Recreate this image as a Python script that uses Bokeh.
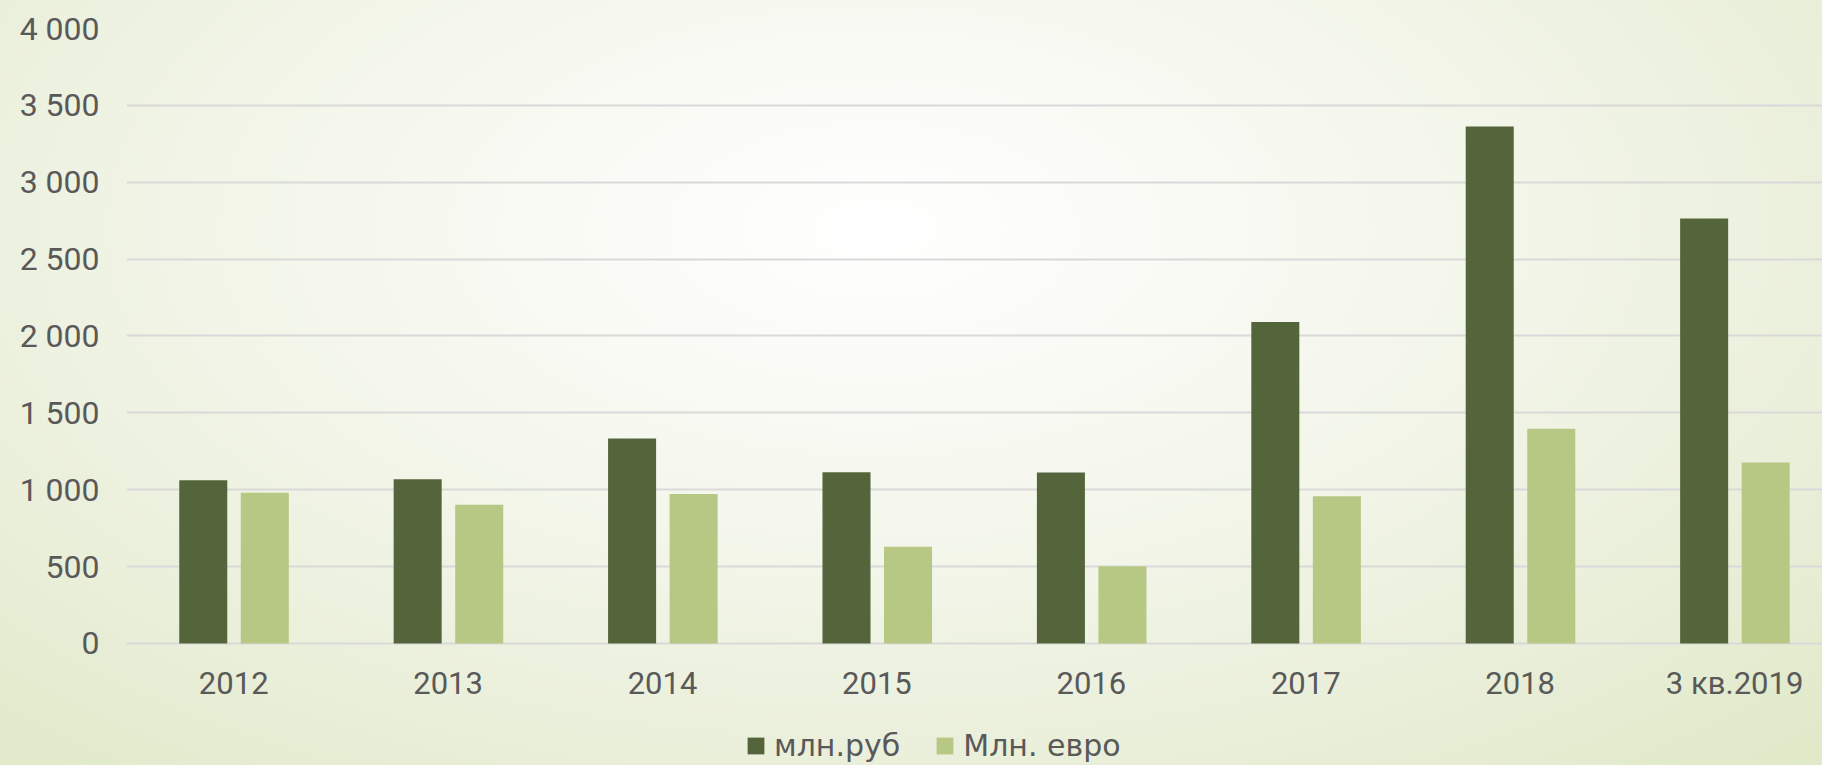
from bokeh.plotting import figure
from bokeh.models import Range1d, FixedTicker, Legend, LegendItem
from bokeh.embed import file_html
from bokeh.resources import INLINE

categories = ["2012", "2013", "2014", "2015", "2016", "2017", "2018", "3 кв.2019"]
rub = [1061, 1068, 1333, 1114, 1112, 2091, 3362, 2764]
eur = [980, 902, 972, 629, 502, 958, 1396, 1177]
series_names = ["млн.руб", "Млн. евро"]
y_ticks = [0, 500, 1000, 1500, 2000, 2500, 3000, 3500, 4000]
y_tick_labels = ["0", "500", "1 000", "1 500", "2 000", "2 500", "3 000", "3 500", "4 000"]

DARK = "#54653C"
LIGHT = "#B6C883"
TEXT = "#595959"

W, H = 1822, 765
xpos = list(range(len(categories)))

p = figure(width=W, height=H, output_backend="svg", toolbar_location=None,
           x_range=Range1d(-0.5, 7.41), y_range=Range1d(-793.5, 4000),
           min_border_left=126, min_border_right=0, min_border_top=28,
           min_border_bottom=0)

p.styles = {"background": "radial-gradient(ellipse 75% 95% at 48% 30%, #FFFFFF 0%, #F6F8EF 35%, #EBF0DC 70%, #E0E9C8 100%)"}
p.background_fill_alpha = 0
p.border_fill_alpha = 0
p.outline_line_color = None

r1 = p.vbar(x=[x - 0.142 for x in xpos], top=rub, width=0.224, fill_color=DARK, line_color=None)
r2 = p.vbar(x=[x + 0.145 for x in xpos], top=eur, width=0.224, fill_color=LIGHT, line_color=None)

p.xgrid.grid_line_color = None
p.ygrid.grid_line_color = "#D9D9D9"
p.ygrid.grid_line_width = 2
p.ygrid.ticker = FixedTicker(ticks=y_ticks)

p.yaxis.ticker = FixedTicker(ticks=y_ticks)
p.yaxis.major_label_overrides = {t: l for t, l in zip(y_ticks, y_tick_labels)}
p.yaxis.axis_line_color = None
p.yaxis.major_tick_line_color = None
p.yaxis.minor_tick_line_color = None
p.yaxis.major_tick_out = 0
p.yaxis.major_tick_in = 0
p.yaxis.major_label_standoff = 27
p.yaxis.major_label_text_font = "Roboto"
p.yaxis.major_label_text_font_size = "32px"
p.yaxis.major_label_text_color = TEXT

p.xaxis.fixed_location = 0
p.xaxis.ticker = FixedTicker(ticks=xpos)
p.xaxis.major_label_overrides = {i: c for i, c in enumerate(categories)}
p.xaxis.axis_line_color = None
p.xaxis.major_tick_line_color = None
p.xaxis.minor_tick_line_color = None
p.xaxis.major_tick_out = 0
p.xaxis.major_tick_in = 0
p.xaxis.major_label_standoff = 22
p.xaxis.major_label_text_font = "Roboto"
p.xaxis.major_label_text_font_size = "31px"
p.xaxis.major_label_text_color = TEXT

legend = Legend(items=[LegendItem(label=series_names[0], renderers=[r1]),
                       LegendItem(label=series_names[1], renderers=[r2])],
                orientation="horizontal", location=(619, 2),
                background_fill_alpha=0, border_line_color=None,
                label_text_font="DejaVu Sans", label_text_font_size="30px",
                label_text_color=TEXT, glyph_width=21, glyph_height=21,
                spacing=34, label_standoff=8, padding=0, margin=0)
p.add_layout(legend, "center")

open("out.html", "w").write(file_html(p, INLINE))
